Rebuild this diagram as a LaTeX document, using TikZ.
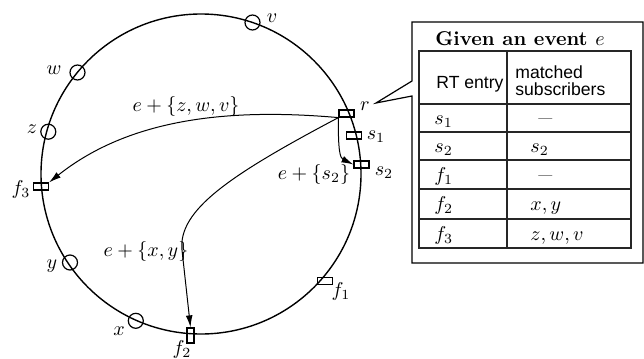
\documentclass[tikz,border=0pt]{standalone}
\usepackage{fontspec}
\setsansfont{Liberation Sans}
\usetikzlibrary{arrows.meta}
\begin{document}
\begin{tikzpicture}[x=0.5pt,y=-0.5pt,
  ring/.style={line width=0.7pt},
  peer/.style={circle,draw,line width=0.6pt,minimum size=7.5pt,inner sep=0pt},
  hbox/.style={rectangle,draw,line width=0.6pt,minimum width=7.5pt,minimum height=3.5pt,inner sep=0pt},
  vbox/.style={hbox,minimum width=3.5pt,minimum height=7.5pt},
  lab/.style={inner sep=0pt},
  msg/.style={line width=0.5pt,-{Latex[length=6pt,width=3.4pt]}},
  tabline/.style={line width=0.55pt,black!85},
  hdr/.style={font=\sffamily\fontsize{8.8}{8.5}\selectfont,inner sep=0pt},
  cell/.style={anchor=base west,inner sep=0pt},
]
\useasboundingbox (0,0) rectangle (644,359);
% ring
\draw[ring] (201,174) circle[radius=80pt];
% peers and routing entries
\node[peer] (v) at (252.5,22.5) {};
\node[peer] (w) at (77.5,72.5) {};
\node[peer] (z) at (48.3,131.7) {};
\node[hbox] (f3) at (41,186.5) {};
\node[peer] (y) at (70,262.5) {};
\node[peer] (x) at (135.8,320.8) {};
\node[vbox] (f2) at (190.5,335.5) {};
\node[hbox] (f1) at (325,281) {};
\node[hbox] (s2) at (361.5,164.5) {};
\node[hbox] (s1) at (354,135.5) {};
\node[hbox] (r) at (346.5,113.5) {};
% labels
\node[lab] (lv) at (272,18) {$v$};
\node[lab] (lw) at (54,70) {$w$};
\node[lab] (lz) at (32,129) {$z$};
\node[lab] (lf3) at (21,189) {$f_3$};
\node[lab] (ly) at (52,266) {$y$};
\node[lab] (lx) at (119,331) {$x$};
\node[lab] (lf2) at (182,349) {$f_2$};
\node[lab] (lf1) at (341,291) {$f_1$};
\node[lab] (ls2) at (384,173) {$s_2$};
\node[lab] (ls1) at (376,137) {$s_1$};
\node[lab] (lr) at (365,106) {$r$};
% messages
\draw[msg] (r.south west) .. controls (230,108) and (130,118) .. (f3.north east);
\draw[msg] (r.south west) .. controls (230,175) and (178,210) .. (182,250) -- (f2.north);
\draw[msg] (r.south west) .. controls (338,150) and (340,158) .. (s2.west);
\node[lab] (m3) at (186,106) {$e+\{z,w,v\}$};
\node[lab] (m2) at (314,174) {$e+\{s_2\}$};
\node[lab] (m1) at (146,251) {$e+\{x,y\}$};
% callout
\draw[line width=0.6pt] (412,22) -- (643,22) -- (643,263) -- (412,263) -- (412,96) -- (376,103) -- (412,81) -- cycle;
\node[inner sep=0pt] (title) at (520,39) {\bfseries Given an event $e$};
% table
\draw[tabline] (419,51) rectangle (631,248);
\draw[tabline] (507,51) -- (507,248);
\foreach \yy in {104,132,160,189,219} \draw[tabline] (419,\yy) -- (631,\yy);
\node[hdr,anchor=base west] (h1) at (436,88) {RT entry};
\node[hdr,anchor=west,align=left] (h2) at (515,81) {matched\\subscribers};
\node[cell] (a1) at (434,124) {$s_1$};
\node[cell] (a2) at (434,152) {$s_2$};
\node[cell] (a3) at (434,181) {$f_1$};
\node[cell] (a4) at (434,210.5) {$f_2$};
\node[cell] (a5) at (434,240) {$f_3$};
\node[cell,xscale=0.7] (b1) at (538,124) {---};
\node[cell] (b2) at (530,152) {$s_2$};
\node[cell,xscale=0.7] (b3) at (538,181) {---};
\node[cell] (b4) at (530,210.5) {$x,y$};
\node[cell] (b5) at (530,240) {$z,w,v$};
\end{tikzpicture}
\end{document}
